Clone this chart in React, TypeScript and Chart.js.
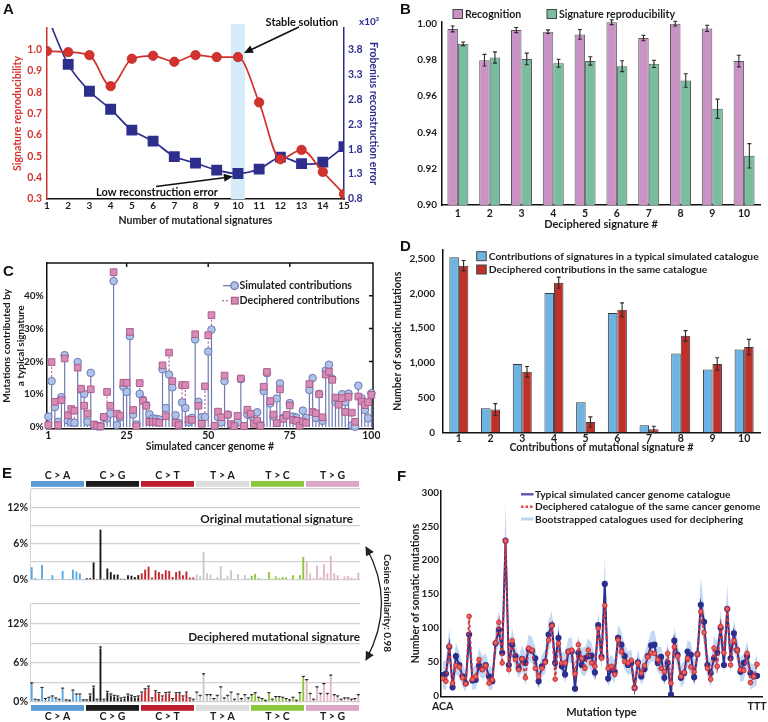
import React, { useEffect, useRef } from "react";
import { Chart, registerables } from "chart.js";

Chart.register(...registerables);

const FONT = "Lato, 'Open Sans', 'DejaVu Sans', sans-serif";
Chart.defaults.font.family = FONT;
Chart.defaults.font.size = 10.5;
Chart.defaults.font.weight = "bold" as any;
Chart.defaults.color = "#1c1c1c";

// ---------------- Panel A ----------------
const A_SIGNATURES = [1, 2, 3, 4, 5, 6, 7, 8, 9, 10, 11, 12, 13, 14, 15];
const A_REPRO = [0.992, 0.987, 0.973, 0.828, 0.956, 0.97, 0.942, 0.973, 0.964, 0.964, 0.752, 0.486, 0.53, 0.427, 0.323];
const A_FROB = [4.48, 3.5, 2.96, 2.6, 2.18, 1.96, 1.65, 1.52, 1.38, 1.31, 1.4, 1.64, 1.51, 1.54, 1.85];
const A_LEFT_TICKS = [0.3, 0.4, 0.5, 0.6, 0.7, 0.8, 0.9, 1.0];
const A_RIGHT_TICKS = [0.8, 1.3, 1.8, 2.3, 2.8, 3.3, 3.8];
const A_STABLE_K = 10;

// ---------------- Panel B ----------------
const B_SIGS = ["1", "2", "3", "4", "5", "6", "7", "8", "9", "10"];
const B_RECOG = [0.9969, 0.9797, 0.9963, 0.9954, 0.9939, 1.0006, 0.9919, 0.9998, 0.9972, 0.9792];
const B_RECOG_ERR = [0.0016, 0.0032, 0.0014, 0.001, 0.0027, 0.0013, 0.0015, 0.0013, 0.0017, 0.0032];
const B_REPRO = [0.9887, 0.9812, 0.9804, 0.978, 0.9793, 0.9764, 0.9777, 0.9685, 0.953, 0.9271];
const B_REPRO_ERR = [0.001, 0.0031, 0.0032, 0.0022, 0.0023, 0.003, 0.002, 0.0037, 0.0053, 0.0067];
const B_TICKS = [0.9, 0.92, 0.94, 0.96, 0.98, 1.0];

// ---------------- Panel C ----------------
const C_GENOMES = Array.from({ length: 100 }, (_, i) => i + 1);
const C_SIM = [
  3.2, 14.0, 6.1, 1.6, 9.1, 21.9, 2.0, 1.4, 1.3, 19.8,
  11.4, 10.1, 1.6, 16.5, 0.4, 0.2, 0.2, 2.8, 2.6, 4.1,
  44.5, 0.6, 3.0, 12.3, 10.7, 27.7, 3.8, 0.8, 10.1, 8.3,
  6.7, 3.9, 2.6, 2.5, 2.3, 17.6, 5.8, 16.0, 12.1, 3.6,
  1.2, 7.5, 5.8, 1.5, 2.8, 26.7, 7.7, 3.0, 3.1, 23.0,
  29.7, 0.3, 3.0, 1.4, 14.0, 3.8, 0.7, 0.4, 1.5, 14.6,
  0.3, 3.8, 3.5, 2.0, 4.5, 0.6, 11.0, 16.4, 7.2, 3.2,
  8.7, 13.3, 2.8, 3.5, 7.3, 3.2, 2.9, 1.7, 5.0, 2.8,
  11.3, 14.9, 2.8, 10.1, 1.9, 17.2, 19.0, 14.7, 7.6, 7.4,
  10.0, 7.6, 10.2, 0.5, 0.1, 12.6, 8.8, 5.2, 2.7, 10.3,
];
const C_DEC = [
  0.6, 19.8, 7.7, 0.6, 8.2, 20.9, 3.6, 5.5, 5.0, 18.1,
  11.7, 6.5, 4.1, 11.5, 0.8, 0.4, 0.2, 3.1, 10.7, 6.5,
  47.2, 4.1, 3.5, 13.5, 13.5, 29.0, 5.2, 0.3, 13.4, 8.0,
  6.5, 1.6, 1.6, 1.6, 1.3, 18.8, 3.3, 22.7, 14.0, 1.3,
  0.6, 12.8, 12.8, 2.3, 2.2, 28.3, 6.5, 1.0, 12.4, 28.0,
  34.1, 0.4, 4.7, 3.0, 15.7, 3.8, 0.9, 0.3, 3.4, 14.8,
  0.3, 5.3, 4.0, 1.0, 2.0, 0.4, 12.3, 16.8, 7.9, 3.8,
  1.2, 11.5, 2.5, 3.7, 6.6, 2.2, 1.9, 0.4, 1.7, 1.3,
  13.1, 4.6, 4.2, 10.0, 3.0, 16.0, 16.9, 14.4, 9.0, 6.8,
  8.8, 4.6, 9.2, 4.4, 1.6, 9.3, 7.8, 6.7, 7.6, 9.8,
];
const C_X_TICKS = [1, 25, 50, 75, 100];
const C_Y_TICKS = [0, 10, 20, 30, 40];

// ---------------- Panel D ----------------
const D_SIGS = ["1", "2", "3", "4", "5", "6", "7", "8", "9", "10"];
const D_SIM = [2520, 350, 985, 2005, 435, 1720, 105, 1135, 905, 1195];
const D_DEC = [2400, 330, 875, 2155, 150, 1765, 45, 1390, 985, 1230];
const D_DEC_ERR = [75, 85, 75, 80, 75, 100, 45, 75, 90, 110];
const D_TICKS = [0, 500, 1000, 1500, 2000, 2500];

// ---------------- Panel E ----------------
const E_GROUPS = ["C > A", "C > G", "C > T", "T > A", "T > C", "T > G"];
const E_BASES = ["A", "C", "G", "T"];
const E_CONTEXTS = E_GROUPS.flatMap((g) => E_BASES.flatMap((l) => E_BASES.map((r) => `${l}[${g.replace(/ /g, "")}]${r}`)));
const E_ORIG = [
  2.1, 0.3, 0.05, 2.5, 0.05, 0.05, 0.8, 0.05, 0.1, 1.5, 0.1, 0.2, 1.7, 1.4, 1.1, 0.05,
  0.3, 0.3, 2.9, 0.1, 8.3, 0.2, 1.9, 1.3, 0.9, 0.9, 0.2, 0.2, 0.8, 0.7, 0.5, 0.8,
  1.1, 1.7, 2.2, 0.4, 1.6, 1.3, 1.0, 1.6, 1.5, 0.5, 1.3, 1.5, 0.8, 1.4, 0.4, 0.4,
  0.9, 0.7, 4.6, 1.1, 0.9, 0.2, 0.5, 2.3, 0.3, 0.7, 1.6, 0.1, 1.0, 0.1, 0.8, 0.3,
  0.7, 1.0, 0.3, 0.2, 0.05, 1.3, 0.2, 0.6, 0.3, 0.5, 0.4, 0.1, 0.8, 0.1, 0.8, 3.8,
  3.1, 1.1, 0.3, 2.4, 0.5, 2.6, 1.1, 4.0, 1.1, 0.8, 0.1, 0.6, 0.7, 0.4, 0.3, 1.2,
];
const E_DEC = [
  2.7, 0.2, 0.1, 2.0, 0.3, 0.5, 0.7, 0.4, 0.2, 1.9, 0.1, 0.05, 1.6, 1.0, 1.0, 0.1,
  0.1, 1.0, 2.2, 0.2, 8.2, 0.2, 1.4, 1.0, 0.8, 0.7, 0.4, 0.5, 1.0, 0.8, 0.6, 0.7,
  1.3, 1.8, 2.2, 0.4, 1.5, 1.2, 0.7, 1.2, 1.3, 0.3, 1.2, 1.2, 0.7, 1.3, 0.4, 0.2,
  1.3, 0.8, 4.1, 0.9, 0.9, 0.3, 0.8, 2.1, 0.4, 0.8, 1.3, 0.2, 1.0, 0.3, 0.9, 0.4,
  0.9, 1.2, 0.5, 0.3, 0.05, 1.2, 0.2, 0.6, 0.6, 0.5, 0.3, 0.1, 0.5, 0.05, 1.2, 3.7,
  3.2, 1.1, 0.2, 2.1, 1.1, 2.6, 1.1, 3.9, 0.9, 0.7, 0.2, 0.4, 0.4, 0.2, 0.3, 0.9,
];
const E_Y_TICKS = [0, 3, 6, 9, 12, 15];
const E_Y_LABELED = [0, 6, 12];
const E_BAR_COLORS = ["#5aa8e4", "#1b1b1b", "#c4262c", "#c9c9c9", "#8cc63f", "#e3b6c2"];
const E_STRIP_COLORS = ["#5b9bd5", "#1b1b1b", "#be1e2d", "#dcdcdc", "#8dc63f", "#dea6c6"];

// ---------------- Panel F ----------------
const F_SIM = [
  30, 32, 72, 12, 58, 45, 28, 18, 90, 22,
  23, 44, 39, 45, 28, 21, 77, 97, 63, 229,
  45, 75, 58, 40, 54, 48, 68, 66, 55, 21,
  43, 50, 90, 104, 48, 85, 43, 31, 65, 65,
  10, 63, 45, 55, 58, 59, 34, 104, 57, 165,
  25, 38, 35, 85, 75, 58, 45, 48, 11, 49,
  28, 39, 58, 74, 75, 48, 57, 26, 48, 1,
  81, 60, 26, 33, 65, 60, 27, 61, 134, 109,
  45, 33, 55, 63, 100, 45, 128, 55, 92, 67,
  35, 48, 58, 33, 28, 29,
];
const F_DEC = [
  25, 21, 73, 18, 44, 42, 26, 17, 117, 24,
  28, 53, 38, 44, 18, 23, 78, 108, 48, 229,
  38, 81, 53, 38, 54, 26, 70, 67, 40, 28,
  40, 49, 82, 103, 24, 77, 48, 48, 65, 67,
  32, 75, 55, 40, 67, 48, 43, 99, 55, 133,
  40, 43, 31, 82, 65, 50, 48, 52, 11, 48,
  33, 44, 57, 63, 62, 53, 40, 35, 62, 18,
  72, 58, 28, 34, 55, 42, 35, 61, 124, 93,
  40, 24, 70, 43, 102, 63, 128, 45, 81, 67,
  38, 37, 62, 19, 28, 46,
];
const F_BOOT_HI = [
  50, 52, 100, 38, 78, 64, 46, 36, 125, 42,
  45, 70, 58, 62, 45, 40, 100, 125, 85, 285,
  62, 100, 76, 58, 74, 62, 90, 86, 72, 42,
  60, 68, 112, 125, 66, 105, 65, 62, 85, 86,
  40, 88, 70, 72, 85, 78, 58, 125, 75, 205,
  55, 60, 52, 105, 95, 75, 65, 68, 32, 68,
  50, 62, 78, 95, 96, 72, 72, 52, 78, 38,
  100, 80, 46, 52, 82, 78, 52, 80, 175, 130,
  62, 52, 88, 80, 125, 80, 165, 72, 112, 88,
  56, 62, 80, 48, 46, 62,
];
const F_BOOT_LO = [
  10, 8, 52, 2, 30, 28, 12, 5, 70, 8,
  10, 30, 24, 28, 8, 8, 58, 78, 35, 175,
  25, 58, 38, 25, 36, 15, 50, 48, 30, 8,
  28, 32, 65, 82, 15, 60, 30, 18, 48, 48,
  0, 48, 30, 28, 42, 35, 22, 78, 38, 110,
  12, 25, 18, 62, 52, 38, 30, 32, 0, 32,
  15, 25, 40, 50, 50, 35, 28, 15, 32, 0,
  55, 42, 12, 18, 40, 30, 15, 45, 100, 75,
  28, 12, 40, 30, 78, 30, 100, 32, 65, 50,
  20, 22, 42, 8, 12, 15,
];
const F_Y_TICKS = [0, 50, 100, 150, 200, 250, 300];
const F_X_TICKS = [0, 95];
const F_X_LABELS = ["ACA", "TTT"];

// ---------------- helpers ----------------
const fixW = (w: number) => (s: any) => {
  s.width = w;
  s.paddingTop = 0;
  s.paddingBottom = 0;
};
const fixH = (h: number) => (s: any) => {
  s.height = h;
  s.paddingLeft = 0;
  s.paddingRight = 0;
};
const setTicks = (vals: number[]) => (s: any) => {
  s.ticks = vals.map((v) => ({ value: v }));
};
const NO_GRID = { display: false, drawTicks: false, tickLength: 0 };
const TICK_FONT = { size: 10 };
const fontStr = (size: number, weight = "bold") => `${weight} ${size}px ${FONT}`;
const baseOptions = (padding: any) => ({
  responsive: false,
  animation: false as const,
  devicePixelRatio: 1,
  events: [] as any[],
  layout: { padding },
  plugins: { legend: { display: false }, tooltip: { enabled: false } },
});

function drawArrow(ctx: CanvasRenderingContext2D, x0: number, y0: number, x1: number, y1: number, head = 9, halfW = 4) {
  const ang = Math.atan2(y1 - y0, x1 - x0);
  const bx = x1 - head * Math.cos(ang);
  const by = y1 - head * Math.sin(ang);
  ctx.beginPath();
  ctx.moveTo(x0, y0);
  ctx.lineTo(bx, by);
  ctx.stroke();
  ctx.beginPath();
  ctx.moveTo(x1, y1);
  ctx.lineTo(bx + halfW * Math.sin(ang), by - halfW * Math.cos(ang));
  ctx.lineTo(bx - halfW * Math.sin(ang), by + halfW * Math.cos(ang));
  ctx.closePath();
  ctx.fill();
}

function legendSquare(ctx: CanvasRenderingContext2D, x: number, y: number, color: string, text: string, size = 10.6) {
  ctx.fillStyle = color;
  ctx.fillRect(x, y - 4.5, 9.5, 9);
  ctx.strokeStyle = "#444";
  ctx.lineWidth = 1;
  ctx.strokeRect(x, y - 4.5, 9.5, 9);
  ctx.fillStyle = "#1c1c1c";
  ctx.font = fontStr(size);
  ctx.textAlign = "left";
  ctx.textBaseline = "middle";
  ctx.fillText(text, x + 12, y + 0.5);
}

const errorBarsPlugin = (errs: (number[] | null)[], cap = 4) => ({
  id: "errorBars",
  afterDatasetsDraw(chart: any) {
    const { ctx } = chart;
    const y = chart.scales.y;
    errs.forEach((err, di) => {
      if (!err) return;
      const meta = chart.getDatasetMeta(di);
      const vals = chart.data.datasets[di].data as number[];
      meta.data.forEach((el: any, i: number) => {
        const x = el.x;
        const y1 = y.getPixelForValue(vals[i] - err[i]);
        const y2 = y.getPixelForValue(vals[i] + err[i]);
        ctx.save();
        ctx.strokeStyle = "#2a2a2a";
        ctx.lineWidth = 1.1;
        ctx.beginPath();
        ctx.moveTo(x, y1);
        ctx.lineTo(x, y2);
        ctx.moveTo(x - cap / 2, y1);
        ctx.lineTo(x + cap / 2, y1);
        ctx.moveTo(x - cap / 2, y2);
        ctx.lineTo(x + cap / 2, y2);
        ctx.stroke();
        ctx.restore();
      });
    });
  },
});

// ---------------- configs ----------------
const RED_A = "#d2332f";
const NAVY = "#2e2f8d";

function configA(): any {
  const annot = {
    id: "annotA",
    beforeDatasetsDraw(chart: any) {
      const { ctx, chartArea: a, scales } = chart;
      const x0 = scales.x.getPixelForValue(A_STABLE_K - 0.33);
      const x1 = scales.x.getPixelForValue(A_STABLE_K + 0.33);
      ctx.save();
      ctx.fillStyle = "#d6ecf9";
      ctx.fillRect(x0, a.top - 4, x1 - x0, a.bottom - a.top + 4);
      ctx.restore();
    },
    afterDatasetsDraw(chart: any) {
      const { ctx, scales } = chart;
      const idx = A_SIGNATURES.indexOf(A_STABLE_K);
      const px = scales.x.getPixelForValue(A_STABLE_K);
      const pyR = scales.y.getPixelForValue(A_REPRO[idx]);
      const pyB = scales.y1.getPixelForValue(A_FROB[idx]);
      ctx.save();
      ctx.fillStyle = "#111";
      ctx.strokeStyle = "#111";
      ctx.lineWidth = 1.6;
      drawArrow(ctx, px + 61, pyR - 30, px + 6, pyR - 4);
      drawArrow(ctx, px - 82, pyB + 13, px - 5, pyB + 3);
      ctx.font = fontStr(11);
      ctx.textAlign = "center";
      ctx.textBaseline = "middle";
      ctx.fillText("Stable solution", px + 64, pyR - 35);
      ctx.fillText("Low reconstruction error", px - 81, pyB + 19);
      ctx.fillStyle = NAVY;
      ctx.font = fontStr(10);
      ctx.textAlign = "left";
      ctx.fillText("x10³", 359, 22);
      ctx.restore();
    },
  };
  return {
    type: "line",
    data: {
      datasets: [
        {
          label: "Signature reproducibility",
          data: A_SIGNATURES.map((k, i) => ({ x: k, y: A_REPRO[i] })),
          yAxisID: "y",
          borderColor: RED_A,
          backgroundColor: RED_A,
          borderWidth: 1.7,
          pointRadius: 4.7,
          pointBorderColor: "#c22a26",
          pointBorderWidth: 0.8,
          tension: 0.35,
          cubicInterpolationMode: "monotone",
        },
        {
          label: "Frobenius reconstruction error",
          data: A_SIGNATURES.map((k, i) => ({ x: k, y: A_FROB[i] })),
          yAxisID: "y1",
          borderColor: NAVY,
          backgroundColor: NAVY,
          borderWidth: 1.7,
          pointStyle: "rect",
          pointRadius: 6.5,
          tension: 0.3,
        },
      ],
    },
    options: {
      ...baseOptions({ top: 28, left: 0, right: 0, bottom: 0 }),
      scales: {
        x: {
          type: "linear",
          min: 1,
          max: 15,
          afterBuildTicks: setTicks(A_SIGNATURES),
          afterFit: fixH(28),
          grid: NO_GRID,
          border: { color: "#111", width: 1.5 },
          ticks: { padding: 1, maxRotation: 0, autoSkip: false, font: TICK_FONT },
          title: { display: true, text: "Number of mutational signatures", font: { size: 10.5 }, padding: { top: 0, bottom: 0 } },
        },
        y: {
          position: "left",
          min: 0.3,
          max: 1.1,
          afterBuildTicks: setTicks(A_LEFT_TICKS),
          afterFit: fixW(47),
          grid: NO_GRID,
          border: { color: RED_A, width: 1.5 },
          ticks: { color: RED_A, padding: 5, font: { size: 10.5 }, callback: (v: any) => Number(v).toFixed(1) },
          title: { display: true, text: "Signature reproducibility", color: RED_A, font: { size: 10.5 }, padding: { top: 11, bottom: 0 } },
        },
        y1: {
          position: "right",
          min: 0.8,
          max: 0.8 + (0.8 * 3.0) / 0.7,
          afterBuildTicks: setTicks(A_RIGHT_TICKS),
          afterFit: fixW(36),
          grid: NO_GRID,
          border: { color: NAVY, width: 1.5 },
          ticks: { color: NAVY, padding: 4, font: { size: 10.5 }, callback: (v: any) => Number(v).toFixed(1) },
          title: { display: true, text: "Frobenius reconstruction error", color: NAVY, font: { size: 10.5 }, padding: { top: 0, bottom: 0 } },
        },
      },
    },
    plugins: [annot],
  };
}

function configB(): any {
  const legend = {
    id: "legendB",
    afterDraw(chart: any) {
      const { ctx } = chart;
      ctx.save();
      legendSquare(ctx, 73, 14, "#c993c6", "Recognition");
      legendSquare(ctx, 167, 14, "#79bd9f", "Signature reproducibility");
      ctx.restore();
    },
  };
  return {
    type: "bar",
    data: {
      labels: B_SIGS,
      datasets: [
        { label: "Recognition", data: B_RECOG, backgroundColor: "#c993c6", borderColor: "#5a5a5a", borderWidth: 1 },
        { label: "Signature reproducibility", data: B_REPRO, backgroundColor: "#79bd9f", borderColor: "#5a5a5a", borderWidth: 1 },
      ],
    },
    options: {
      ...baseOptions({ top: 21.5, left: 0, right: 8, bottom: 0 }),
      datasets: { bar: { barPercentage: 1, categoryPercentage: 0.66 } },
      scales: {
        x: {
          afterFit: fixH(26),
          grid: NO_GRID,
          border: { color: "#111", width: 1.5 },
          ticks: { padding: 2.5, font: { size: 10.5 } },
          title: { display: true, text: "Deciphered signature #", font: { size: 11 }, padding: { top: 0, bottom: 0 } },
        },
        y: {
          min: 0.9,
          max: 1.001,
          beginAtZero: false,
          afterBuildTicks: setTicks(B_TICKS),
          afterFit: fixW(62),
          grid: NO_GRID,
          border: { color: "#111", width: 1.5 },
          ticks: { padding: 5, font: TICK_FONT, callback: (v: any) => Number(v).toFixed(2) },
        },
      },
    },
    plugins: [errorBarsPlugin([B_RECOG_ERR, B_REPRO_ERR]), legend],
  };
}

function configC(): any {
  const stems = {
    id: "stemsC",
    beforeDatasetsDraw(chart: any) {
      const { ctx, chartArea: a, scales } = chart;
      const { x, y } = scales;
      const y0 = y.getPixelForValue(0);
      ctx.save();
      ctx.strokeStyle = "#111";
      ctx.lineWidth = 1.5;
      ctx.beginPath();
      ctx.moveTo(a.left, a.top);
      ctx.lineTo(a.right, a.top);
      ctx.lineTo(a.right, a.bottom);
      ctx.stroke();
      ctx.beginPath();
      C_X_TICKS.slice(1, -1).forEach((t) => {
        const px = x.getPixelForValue(t);
        ctx.moveTo(px, a.top);
        ctx.lineTo(px, a.top + 4);
      });
      C_Y_TICKS.slice(1).forEach((t) => {
        const py = y.getPixelForValue(t);
        ctx.moveTo(a.right, py);
        ctx.lineTo(a.right - 4, py);
      });
      ctx.stroke();
      C_GENOMES.forEach((g, i) => {
        const px = x.getPixelForValue(g);
        const ys = y.getPixelForValue(C_SIM[i]);
        const yd = y.getPixelForValue(C_DEC[i]);
        ctx.setLineDash([]);
        ctx.strokeStyle = "#6f7bb3";
        ctx.lineWidth = 1.2;
        ctx.beginPath();
        ctx.moveTo(px, y0);
        ctx.lineTo(px, ys);
        ctx.stroke();
        if (C_DEC[i] > C_SIM[i]) {
          ctx.setLineDash([2, 2]);
          ctx.strokeStyle = "#b0689a";
          ctx.beginPath();
          ctx.moveTo(px, ys);
          ctx.lineTo(px, yd);
          ctx.stroke();
        }
      });
      ctx.restore();
    },
    afterDraw(chart: any) {
      const { ctx } = chart;
      ctx.save();
      ctx.lineWidth = 1.3;
      ctx.strokeStyle = "#6f7bb3";
      ctx.beginPath();
      ctx.moveTo(223, 30.7);
      ctx.lineTo(231, 30.7);
      ctx.stroke();
      ctx.beginPath();
      ctx.arc(234.5, 30.7, 3.8, 0, Math.PI * 2);
      ctx.fillStyle = "#aec2e8";
      ctx.fill();
      ctx.stroke();
      ctx.setLineDash([2, 2]);
      ctx.strokeStyle = "#b0689a";
      ctx.beginPath();
      ctx.moveTo(222, 45.7);
      ctx.lineTo(230, 45.7);
      ctx.stroke();
      ctx.setLineDash([]);
      ctx.fillStyle = "#d98bb8";
      ctx.strokeStyle = "#a8608c";
      ctx.fillRect(231.5, 42.4, 6.6, 6.6);
      ctx.strokeRect(231.5, 42.4, 6.6, 6.6);
      ctx.fillStyle = "#1c1c1c";
      ctx.font = fontStr(10.6);
      ctx.textAlign = "left";
      ctx.textBaseline = "middle";
      ctx.fillText("Simulated contributions", 239.5, 31);
      ctx.fillText("Deciphered contributions", 239.5, 46);
      ctx.restore();
    },
  };
  return {
    type: "scatter",
    data: {
      datasets: [
        {
          label: "Deciphered contributions",
          data: C_GENOMES.map((g, i) => ({ x: g, y: C_DEC[i] })),
          pointStyle: "rect",
          pointRadius: 4.7,
          backgroundColor: "#d98bb8",
          borderColor: "#a8608c",
          borderWidth: 1,
          clip: 8,
        },
        {
          label: "Simulated contributions",
          data: C_GENOMES.map((g, i) => ({ x: g, y: C_SIM[i] })),
          pointStyle: "circle",
          pointRadius: 3.8,
          backgroundColor: "#aec2e8",
          borderColor: "#6b79b5",
          borderWidth: 1,
          clip: 8,
        },
      ],
    },
    options: {
      ...baseOptions({ top: 8, left: 0, right: 7, bottom: 0 }),
      scales: {
        x: {
          type: "linear",
          min: 0.5,
          max: 100.5,
          afterBuildTicks: setTicks(C_X_TICKS),
          afterFit: fixH(24.3),
          grid: NO_GRID,
          border: { color: "#111", width: 1.5 },
          ticks: { padding: 1, maxRotation: 0, autoSkip: false, font: { size: 10.5 } },
          title: { display: true, text: "Simulated cancer genome #", font: { size: 10.5 }, padding: { top: 0, bottom: 0 } },
        },
        y: {
          min: -0.5,
          max: 50,
          afterBuildTicks: setTicks(C_Y_TICKS),
          afterFit: fixW(46.7),
          grid: NO_GRID,
          border: { color: "#111", width: 1.5 },
          ticks: { padding: 3, font: TICK_FONT, callback: (v: any) => `${v}%` },
          title: {
            display: true,
            text: ["Mutations contributed by", "a typical signature"],
            font: { size: 10, weight: "bold", lineHeight: 1.4 },
            padding: { top: 0, bottom: 0 },
          },
        },
      },
    },
    plugins: [stems],
  };
}

function configD(): any {
  const legend = {
    id: "legendD",
    afterDraw(chart: any) {
      const { ctx } = chart;
      ctx.save();
      legendSquare(ctx, 96.7, 16.2, "#6db3e3", "Contributions of signatures in a typical simulated catalogue", 10.3);
      legendSquare(ctx, 96.7, 29.5, "#c0302b", "Deciphered contributions in the same catalogue", 10.3);
      ctx.restore();
    },
  };
  return {
    type: "bar",
    data: {
      labels: D_SIGS,
      datasets: [
        { label: "Simulated", data: D_SIM, backgroundColor: "#6db3e3", borderColor: "#3a3a3a", borderWidth: 1 },
        { label: "Deciphered", data: D_DEC, backgroundColor: "#c0302b", borderColor: "#3a3a3a", borderWidth: 1 },
      ],
    },
    options: {
      ...baseOptions({ top: 10, left: 0, right: 8, bottom: 0 }),
      datasets: { bar: { barPercentage: 1, categoryPercentage: 0.6 } },
      scales: {
        x: {
          afterFit: fixH(21.5),
          grid: NO_GRID,
          border: { color: "#111", width: 1.5 },
          ticks: { padding: 0, font: { size: 10.5 } },
          title: { display: true, text: "Contributions of mutational signature #", font: { size: 10.5 }, padding: { top: 0, bottom: 0 } },
        },
        y: {
          min: 0,
          max: 2625,
          afterBuildTicks: setTicks(D_TICKS),
          afterFit: fixW(63),
          grid: NO_GRID,
          border: { color: "#111", width: 1.5 },
          ticks: { padding: 8, font: TICK_FONT, callback: (v: any) => Number(v).toLocaleString("en-US") },
          title: { display: true, text: "Number of somatic mutations", font: { size: 10.5 }, padding: { top: 11, bottom: 0 } },
        },
      },
    },
    plugins: [errorBarsPlugin([null, D_DEC_ERR]), legend],
  };
}

function configE(values: number[], deciphered: boolean): any {
  const deco = {
    id: "decoE",
    afterDatasetsDraw(chart: any) {
      const { ctx, chartArea: a, scales } = chart;
      const x = scales.x;
      ctx.save();
      if (deciphered) {
        const meta = chart.getDatasetMeta(0);
        ctx.strokeStyle = "#222";
        ctx.lineWidth = 1;
        meta.data.forEach((el: any) => {
          ctx.beginPath();
          ctx.moveTo(el.x - 1.6, el.y - 1.5);
          ctx.lineTo(el.x + 1.6, el.y - 1.5);
          ctx.moveTo(el.x, el.y - 1.5);
          ctx.lineTo(el.x, el.y);
          ctx.stroke();
        });
      }
      const stripTop = deciphered ? a.bottom + 3 : a.top - 8;
      const labelY = deciphered ? a.bottom + 15 : a.top - 13;
      const half = (x.getPixelForValue(1) - x.getPixelForValue(0)) / 2;
      E_GROUPS.forEach((g, gi) => {
        const x0 = x.getPixelForValue(gi * 16) - half + 1;
        const x1 = x.getPixelForValue(gi * 16 + 15) + half - 1;
        ctx.fillStyle = E_STRIP_COLORS[gi];
        ctx.fillRect(x0, stripTop, x1 - x0, 5.8);
        ctx.fillStyle = "#1c1c1c";
        ctx.font = fontStr(10.5);
        ctx.textAlign = "center";
        ctx.textBaseline = "middle";
        ctx.fillText(g, (x0 + x1) / 2, labelY);
      });
      ctx.font = fontStr(11.8);
      ctx.textAlign = "right";
      ctx.textBaseline = "middle";
      ctx.fillStyle = "#1c1c1c";
      if (deciphered) ctx.fillText("Deciphered mutational signature", a.right, a.top + 33);
      else ctx.fillText("Original mutational signature", a.right - 7, a.top + 30);
      ctx.restore();
    },
  };
  return {
    type: "bar",
    data: {
      labels: E_CONTEXTS,
      datasets: [
        {
          label: deciphered ? "Deciphered" : "Original",
          data: values,
          backgroundColor: values.map((_, i) => E_BAR_COLORS[Math.floor(i / 16)]),
          barPercentage: 0.55,
          categoryPercentage: 1,
        },
      ],
    },
    options: {
      ...baseOptions(deciphered ? { top: 14, left: 0, right: 20, bottom: 20 } : { top: 29, left: 0, right: 20, bottom: 5 }),
      scales: {
        x: { display: false },
        y: {
          min: 0,
          max: 15,
          afterBuildTicks: setTicks(E_Y_TICKS),
          afterFit: fixW(30),
          grid: { color: "#d2d2d2", lineWidth: 1.3, drawTicks: false, tickLength: 0 },
          border: { color: "#d2d2d2", width: 1 },
          ticks: { padding: 2, font: { size: 10.5 }, callback: (v: any) => (E_Y_LABELED.includes(Number(v)) ? `${v}%` : "") },
        },
      },
    },
    plugins: [deco],
  };
}

function configF(): any {
  const legend = {
    id: "legendF",
    afterDraw(chart: any) {
      const { ctx } = chart;
      ctx.save();
      const rows = [
        { y: 34.3, color: "#5a58b0", dash: [] as number[], w: 2.4, text: "Typical simulated cancer genome catalogue" },
        { y: 46.7, color: "#e0454c", dash: [2.5, 2], w: 2.4, text: "Deciphered catalogue of the same cancer genome" },
        { y: 59, color: "#bcd6f2", dash: [] as number[], w: 3, text: "Bootstrapped catalogues used for deciphering" },
      ];
      rows.forEach((r) => {
        ctx.strokeStyle = r.color;
        ctx.lineWidth = r.w;
        ctx.setLineDash(r.dash);
        ctx.beginPath();
        ctx.moveTo(141, r.y);
        ctx.lineTo(153.5, r.y);
        ctx.stroke();
        ctx.setLineDash([]);
        ctx.fillStyle = "#1c1c1c";
        ctx.font = fontStr(10.2);
        ctx.textAlign = "left";
        ctx.textBaseline = "middle";
        ctx.fillText(r.text, 155, r.y + 0.5);
      });
      ctx.restore();
    },
  };
  const idx = F_SIM.map((_, i) => i);
  return {
    type: "line",
    data: {
      datasets: [
        {
          label: "Deciphered catalogue of the same cancer genome",
          data: idx.map((k) => ({ x: k, y: F_DEC[k] })),
          borderColor: "#d8343b",
          borderDash: [3, 2.5],
          borderWidth: 1.8,
          pointRadius: 2.3,
          pointBackgroundColor: "#e46464",
          pointBorderColor: "#cc2b30",
          pointBorderWidth: 1,
          tension: 0,
          fill: false,
        },
        {
          label: "Typical simulated cancer genome catalogue",
          data: idx.map((k) => ({ x: k, y: F_SIM[k] })),
          borderColor: "#2b2f8f",
          backgroundColor: "#2b2f8f",
          borderWidth: 2,
          pointRadius: 2.1,
          tension: 0,
          fill: false,
        },
        {
          label: "Bootstrapped catalogues (upper)",
          data: idx.map((k) => ({ x: k, y: F_BOOT_HI[k] })),
          borderColor: "rgba(0,0,0,0)",
          borderWidth: 0,
          pointRadius: 0,
          backgroundColor: "rgba(170,200,236,0.7)",
          fill: "+1",
          tension: 0,
        },
        {
          label: "Bootstrapped catalogues (lower)",
          data: idx.map((k) => ({ x: k, y: F_BOOT_LO[k] })),
          borderColor: "rgba(0,0,0,0)",
          borderWidth: 0,
          pointRadius: 0,
          fill: false,
          tension: 0,
        },
      ],
    },
    options: {
      ...baseOptions({ top: 30.7, left: 0, right: 3, bottom: 0 }),
      scales: {
        x: {
          type: "linear",
          min: -0.5,
          max: 96.5,
          afterBuildTicks: setTicks(F_X_TICKS),
          afterFit: fixH(22.6),
          grid: NO_GRID,
          border: { color: "#111", width: 1.5 },
          ticks: { padding: 4, maxRotation: 0, autoSkip: false, font: { size: 10.5 }, callback: (v: any) => F_X_LABELS[F_X_TICKS.indexOf(Number(v))] ?? "" },
          title: { display: true, text: "Mutation type", font: { size: 11 }, padding: { top: 0, bottom: 0 } },
        },
        y: {
          min: -1.5,
          max: 303,
          afterBuildTicks: setTicks(F_Y_TICKS),
          afterFit: fixW(61),
          grid: NO_GRID,
          border: { color: "#111", width: 1.5 },
          ticks: { padding: 2, font: TICK_FONT },
          title: { display: true, text: "Number of somatic mutations", font: { size: 10.5 }, padding: { top: 29, bottom: 0 } },
        },
      },
    },
    plugins: [legend],
  };
}

// ---------------- components ----------------
function ChartCanvas({ x, y, w, h, make }: { x: number; y: number; w: number; h: number; make: () => any }) {
  const ref = useRef<HTMLCanvasElement | null>(null);
  useEffect(() => {
    if (!ref.current) return;
    const chart = new Chart(ref.current, make());
    return () => chart.destroy();
  }, []);
  return (
    <div style={{ position: "absolute", left: x, top: y, width: w, height: h }}>
      <canvas ref={ref} width={w} height={h} style={{ display: "block", width: w, height: h }} />
    </div>
  );
}

const letterStyle = (left: number, top: number): React.CSSProperties => ({
  position: "absolute",
  left,
  top,
  font: "bold 15px 'Liberation Sans', Arial, sans-serif",
  lineHeight: "15px",
  color: "#111",
});

export default function App() {
  return (
    <div style={{ position: "absolute", left: 0, top: 0, width: 768, height: 722, background: "#fff", overflow: "hidden" }}>
      <ChartCanvas x={0} y={0} w={380} h={227} make={configA} />
      <ChartCanvas x={380} y={0} w={388} h={231} make={configB} />
      <ChartCanvas x={0} y={255} w={380} h={198} make={configC} />
      <ChartCanvas x={380} y={240} w={388} h={214} make={configD} />
      <ChartCanvas x={0} y={460} w={380} h={125} make={() => configE(E_ORIG, false)} />
      <ChartCanvas x={0} y={590} w={380} h={132} make={() => configE(E_DEC, true)} />
      <ChartCanvas x={380} y={460} w={388} h={259} make={configF} />
      <svg width={768} height={722} style={{ position: "absolute", left: 0, top: 0, pointerEvents: "none" }}>
        <defs>
          <marker id="arrowHead" viewBox="0 0 10 10" refX="9" refY="5" markerWidth="7" markerHeight="7" orient="auto-start-reverse">
            <path d="M0,0 L10,5 L0,10 z" fill="#222" />
          </marker>
        </defs>
        <path d="M 366 547 Q 397 603 366 660" fill="none" stroke="#222" strokeWidth={1.3} markerStart="url(#arrowHead)" markerEnd="url(#arrowHead)" />
      </svg>
      <div
        style={{
          position: "absolute",
          left: 388,
          top: 603,
          transform: "translate(-50%, -50%) rotate(90deg)",
          whiteSpace: "nowrap",
          font: `bold 10px ${FONT}`,
          color: "#1c1c1c",
        }}
      >
        Cosine similarity: 0.98
      </div>
      <div style={letterStyle(3, 1)}>A</div>
      <div style={letterStyle(400, 1)}>B</div>
      <div style={letterStyle(3, 263)}>C</div>
      <div style={letterStyle(400, 238)}>D</div>
      <div style={letterStyle(2, 465)}>E</div>
      <div style={letterStyle(397, 468)}>F</div>
    </div>
  );
}
